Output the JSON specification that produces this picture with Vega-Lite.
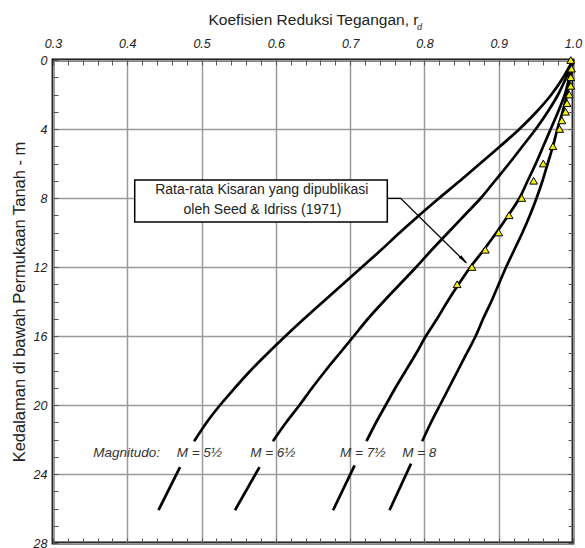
{
  "$schema": "https://vega.github.io/schema/vega-lite/v6.json",
  "width": 520,
  "height": 483,
  "autosize": {"type": "none"},
  "padding": {"left": 53, "top": 60, "right": 12, "bottom": 5},
  "background": "white",
  "config": {
    "font": "Liberation Sans",
    "view": {"stroke": "black", "strokeWidth": 2.8}
  },
  "datasets": {
    "curves": [
      {"seg": "A1", "depth": 0, "rd": 1.0}, {"seg": "A1", "depth": 1, "rd": 0.987}, {"seg": "A1", "depth": 2, "rd": 0.971}, {"seg": "A1", "depth": 3, "rd": 0.951}, {"seg": "A1", "depth": 4, "rd": 0.928}, {"seg": "A1", "depth": 5, "rd": 0.902}, {"seg": "A1", "depth": 6, "rd": 0.875}, {"seg": "A1", "depth": 7, "rd": 0.848}, {"seg": "A1", "depth": 8, "rd": 0.82}, {"seg": "A1", "depth": 9, "rd": 0.793}, {"seg": "A1", "depth": 10, "rd": 0.767}, {"seg": "A1", "depth": 11, "rd": 0.742}, {"seg": "A1", "depth": 12, "rd": 0.716}, {"seg": "A1", "depth": 13, "rd": 0.69}, {"seg": "A1", "depth": 14, "rd": 0.664}, {"seg": "A1", "depth": 15, "rd": 0.638}, {"seg": "A1", "depth": 16, "rd": 0.613}, {"seg": "A1", "depth": 17, "rd": 0.589}, {"seg": "A1", "depth": 18, "rd": 0.566}, {"seg": "A1", "depth": 19, "rd": 0.545}, {"seg": "A1", "depth": 20, "rd": 0.525}, {"seg": "A1", "depth": 21, "rd": 0.507}, {"seg": "A1", "depth": 22.1, "rd": 0.49},
      {"seg": "A2", "depth": 23.6, "rd": 0.471}, {"seg": "A2", "depth": 26.1, "rd": 0.442},
      {"seg": "B1", "depth": 0, "rd": 1.0}, {"seg": "B1", "depth": 1, "rd": 0.991}, {"seg": "B1", "depth": 2, "rd": 0.98}, {"seg": "B1", "depth": 3, "rd": 0.966}, {"seg": "B1", "depth": 4, "rd": 0.95}, {"seg": "B1", "depth": 5, "rd": 0.932}, {"seg": "B1", "depth": 6, "rd": 0.914}, {"seg": "B1", "depth": 7, "rd": 0.895}, {"seg": "B1", "depth": 8, "rd": 0.876}, {"seg": "B1", "depth": 9, "rd": 0.854}, {"seg": "B1", "depth": 10, "rd": 0.832}, {"seg": "B1", "depth": 11, "rd": 0.81}, {"seg": "B1", "depth": 12, "rd": 0.789}, {"seg": "B1", "depth": 13, "rd": 0.767}, {"seg": "B1", "depth": 14, "rd": 0.745}, {"seg": "B1", "depth": 15, "rd": 0.724}, {"seg": "B1", "depth": 16, "rd": 0.705}, {"seg": "B1", "depth": 17, "rd": 0.686}, {"seg": "B1", "depth": 18, "rd": 0.667}, {"seg": "B1", "depth": 19, "rd": 0.649}, {"seg": "B1", "depth": 20, "rd": 0.632}, {"seg": "B1", "depth": 21, "rd": 0.614}, {"seg": "B1", "depth": 22.1, "rd": 0.596},
      {"seg": "B2", "depth": 23.6, "rd": 0.578}, {"seg": "B2", "depth": 26.1, "rd": 0.545},
      {"seg": "C1", "depth": 0, "rd": 1.0}, {"seg": "C1", "depth": 1, "rd": 0.995}, {"seg": "C1", "depth": 2, "rd": 0.989}, {"seg": "C1", "depth": 3, "rd": 0.98}, {"seg": "C1", "depth": 4, "rd": 0.97}, {"seg": "C1", "depth": 5, "rd": 0.96}, {"seg": "C1", "depth": 6, "rd": 0.95}, {"seg": "C1", "depth": 7, "rd": 0.939}, {"seg": "C1", "depth": 8, "rd": 0.928}, {"seg": "C1", "depth": 9, "rd": 0.913}, {"seg": "C1", "depth": 10, "rd": 0.897}, {"seg": "C1", "depth": 11, "rd": 0.88}, {"seg": "C1", "depth": 12, "rd": 0.862}, {"seg": "C1", "depth": 13, "rd": 0.846}, {"seg": "C1", "depth": 14, "rd": 0.831}, {"seg": "C1", "depth": 15, "rd": 0.817}, {"seg": "C1", "depth": 16, "rd": 0.802}, {"seg": "C1", "depth": 17, "rd": 0.789}, {"seg": "C1", "depth": 18, "rd": 0.775}, {"seg": "C1", "depth": 19, "rd": 0.761}, {"seg": "C1", "depth": 20, "rd": 0.748}, {"seg": "C1", "depth": 21, "rd": 0.735}, {"seg": "C1", "depth": 22.1, "rd": 0.722},
      {"seg": "C2", "depth": 23.5, "rd": 0.706}, {"seg": "C2", "depth": 26.1, "rd": 0.677},
      {"seg": "D1", "depth": 0, "rd": 1.0}, {"seg": "D1", "depth": 1, "rd": 0.996}, {"seg": "D1", "depth": 2, "rd": 0.992}, {"seg": "D1", "depth": 3, "rd": 0.986}, {"seg": "D1", "depth": 4, "rd": 0.979}, {"seg": "D1", "depth": 5, "rd": 0.973}, {"seg": "D1", "depth": 6, "rd": 0.966}, {"seg": "D1", "depth": 7, "rd": 0.959}, {"seg": "D1", "depth": 8, "rd": 0.951}, {"seg": "D1", "depth": 9, "rd": 0.942}, {"seg": "D1", "depth": 10, "rd": 0.932}, {"seg": "D1", "depth": 11, "rd": 0.921}, {"seg": "D1", "depth": 12, "rd": 0.91}, {"seg": "D1", "depth": 13, "rd": 0.9}, {"seg": "D1", "depth": 14, "rd": 0.89}, {"seg": "D1", "depth": 15, "rd": 0.879}, {"seg": "D1", "depth": 16, "rd": 0.869}, {"seg": "D1", "depth": 17, "rd": 0.857}, {"seg": "D1", "depth": 18, "rd": 0.845}, {"seg": "D1", "depth": 19, "rd": 0.833}, {"seg": "D1", "depth": 20, "rd": 0.821}, {"seg": "D1", "depth": 21, "rd": 0.809}, {"seg": "D1", "depth": 22.1, "rd": 0.797},
      {"seg": "D2", "depth": 23.4, "rd": 0.782}, {"seg": "D2", "depth": 26.1, "rd": 0.753}
    ],
    "seed": [
      {"depth": 0, "rd": 0.997}, {"depth": 0.5, "rd": 0.998}, {"depth": 1.0, "rd": 0.997}, {"depth": 1.5, "rd": 0.997}, {"depth": 2.0, "rd": 0.995}, {"depth": 2.5, "rd": 0.992}, {"depth": 3.0, "rd": 0.99}, {"depth": 3.5, "rd": 0.985}, {"depth": 4.0, "rd": 0.982}, {"depth": 5.0, "rd": 0.973}, {"depth": 6.0, "rd": 0.96}, {"depth": 7.0, "rd": 0.947}, {"depth": 8.0, "rd": 0.931}, {"depth": 9.0, "rd": 0.914}, {"depth": 10.0, "rd": 0.9}, {"depth": 11.0, "rd": 0.882}, {"depth": 12.0, "rd": 0.864}, {"depth": 13.0, "rd": 0.844}
    ],
    "mlabels": [
      {"rd": 0.399, "depth": 22.8, "text": "Magnitudo:"},
      {"rd": 0.497, "depth": 22.8, "text": "M = 5½"},
      {"rd": 0.596, "depth": 22.8, "text": "M = 6½"},
      {"rd": 0.717, "depth": 22.8, "text": "M = 7½"},
      {"rd": 0.793, "depth": 22.8, "text": "M = 8"}
    ],
    "box": [{"rd": 0.41, "rd2": 0.75, "depth": 6.96, "depth2": 9.39}],
    "boxtext": [
      {"rd": 0.581, "depth": 7.56, "text": "Rata-rata Kisaran yang dipublikasi"},
      {"rd": 0.582, "depth": 8.72, "text": "oleh Seed & Idriss (1971)"}
    ],
    "arrow": [
      {"i": 1, "rd": 0.75, "depth": 8.02},
      {"i": 2, "rd": 0.768, "depth": 8.02},
      {"i": 3, "rd": 0.856, "depth": 11.75}
    ],
    "head": [{"rd": 0.853, "depth": 11.6}],
    "sub": [{"rd": 0.79, "depth": -1.9, "text": "d"}]
  },
  "resolve": {"axis": {"x": "independent", "y": "independent"}},
  "layer": [
    {
      "data": {"name": "curves"},
      "mark": {"type": "line", "color": "black", "strokeWidth": 2.7, "interpolate": "catmull-rom"},
      "encoding": {
        "x": {
          "field": "rd", "type": "quantitative",
          "scale": {"domain": [0.3, 1.0], "nice": false, "zero": false},
          "axis": {
            "orient": "top",
            "values": [0.3,0.32,0.34,0.36,0.38,0.4,0.42,0.44,0.46,0.48,0.5,0.52,0.54,0.56,0.58,0.6,0.62,0.64,0.66,0.68,0.7,0.72,0.74,0.76,0.78,0.8,0.82,0.84,0.86,0.88,0.9,0.92,0.94,0.96,0.98,1.0],
            "labelExpr": "abs(datum.value*10-round(datum.value*10))<0.001 ? format(datum.value,'.1f') : ''",
            "labelOverlap": false,
            "labelFlush": false,
            "labelBound": false,
            "labelFontStyle": "italic",
            "labelFontSize": 12.5,
            "labelColor": "#222",
            "labelPadding": 15,
            "tickSize": -5,
            "tickColor": "#555",
            "tickWidth": 1,
            "domain": false,
            "grid": true,
            "gridColor": "#9a9a9a",
            "gridWidth": 1.5,
            "gridOpacity": {"condition": {"test": "abs(datum.value*10-round(datum.value*10))<0.001", "value": 1}, "value": 0},
            "title": "Koefisien Reduksi Tegangan, r",
            "titleFontSize": 15.5,
            "titleFontWeight": "normal",
            "titleColor": "#222",
            "titlePadding": 10
          }
        },
        "y": {
          "field": "depth", "type": "quantitative",
          "scale": {"domain": [0, 28], "reverse": true, "nice": false, "zero": false},
          "axis": {
            "orient": "left",
            "values": [0,1,2,3,4,5,6,7,8,9,10,11,12,13,14,15,16,17,18,19,20,21,22,23,24,25,26,27,28],
            "labelExpr": "datum.value % 4 === 0 ? datum.label : ''",
            "labelOverlap": false,
            "labelFlush": false,
            "labelBound": false,
            "labelFontStyle": "italic",
            "labelFontSize": 12.5,
            "labelColor": "#222",
            "labelPadding": 11,
            "tickSize": -5,
            "tickColor": "#555",
            "tickWidth": 1,
            "domain": false,
            "grid": true,
            "gridColor": "#9a9a9a",
            "gridWidth": 1.5,
            "gridOpacity": {"condition": {"test": "datum.value % 4 === 0", "value": 1}, "value": 0},
            "title": "Kedalaman di bawah Permukaan Tanah - m",
            "titleFontSize": 16.5,
            "titleFontWeight": "normal",
            "titleColor": "#222",
            "titlePadding": 6
          }
        },
        "detail": {"field": "seg"},
        "order": {"field": "depth"}
      }
    },
    {
      "data": {"name": "arrow"},
      "mark": {"type": "line", "color": "black", "strokeWidth": 1.3},
      "encoding": {
        "x": {"field": "rd", "type": "quantitative", "axis": null},
        "y": {"field": "depth", "type": "quantitative", "axis": null},
        "order": {"field": "i"}
      }
    },
    {
      "data": {"name": "head"},
      "mark": {"type": "point", "shape": "M0,-1L0.35,1L-0.35,1Z", "filled": true, "color": "black", "opacity": 1, "size": 110, "angle": 134},
      "encoding": {
        "x": {"field": "rd", "type": "quantitative", "axis": null},
        "y": {"field": "depth", "type": "quantitative", "axis": null}
      }
    },
    {
      "data": {"name": "box"},
      "mark": {"type": "rect", "fill": "white", "stroke": "black", "strokeWidth": 1.5},
      "encoding": {
        "x": {"field": "rd", "type": "quantitative", "axis": null},
        "x2": {"field": "rd2"},
        "y": {"field": "depth", "type": "quantitative", "axis": null},
        "y2": {"field": "depth2"}
      }
    },
    {
      "data": {"name": "boxtext"},
      "mark": {"type": "text", "fontSize": 14, "color": "#222", "align": "center", "baseline": "middle"},
      "encoding": {
        "x": {"field": "rd", "type": "quantitative", "axis": null},
        "y": {"field": "depth", "type": "quantitative", "axis": null},
        "text": {"field": "text"}
      }
    },
    {
      "data": {"name": "mlabels"},
      "mark": {"type": "text", "fontSize": 13.5, "fontStyle": "italic", "color": "#333", "align": "center", "baseline": "middle"},
      "encoding": {
        "x": {"field": "rd", "type": "quantitative", "axis": null},
        "y": {"field": "depth", "type": "quantitative", "axis": null},
        "text": {"field": "text"}
      }
    },
    {
      "data": {"name": "sub"},
      "mark": {"type": "text", "fontSize": 9, "fontStyle": "italic", "color": "#222", "align": "left", "baseline": "middle"},
      "encoding": {
        "x": {"field": "rd", "type": "quantitative", "axis": null},
        "y": {"field": "depth", "type": "quantitative", "axis": null},
        "text": {"field": "text"}
      }
    },
    {
      "data": {"name": "seed"},
      "mark": {"type": "point", "shape": "triangle-up", "filled": true, "fill": "#f2f200", "stroke": "black", "strokeWidth": 1, "opacity": 1, "size": 60},
      "encoding": {
        "x": {
          "field": "rd", "type": "quantitative",
          "axis": {
            "orient": "bottom",
            "values": [0.3,0.32,0.34,0.36,0.38,0.4,0.42,0.44,0.46,0.48,0.5,0.52,0.54,0.56,0.58,0.6,0.62,0.64,0.66,0.68,0.7,0.72,0.74,0.76,0.78,0.8,0.82,0.84,0.86,0.88,0.9,0.92,0.94,0.96,0.98,1.0],
            "labels": false, "tickSize": -5, "tickColor": "#555", "tickWidth": 1, "domain": false, "grid": false, "title": null
          }
        },
        "y": {
          "field": "depth", "type": "quantitative",
          "axis": {
            "orient": "right",
            "values": [0,1,2,3,4,5,6,7,8,9,10,11,12,13,14,15,16,17,18,19,20,21,22,23,24,25,26,27,28],
            "labels": false, "tickSize": -5, "tickColor": "#555", "tickWidth": 1, "domain": false, "grid": false, "title": null
          }
        }
      }
    }
  ]
}
